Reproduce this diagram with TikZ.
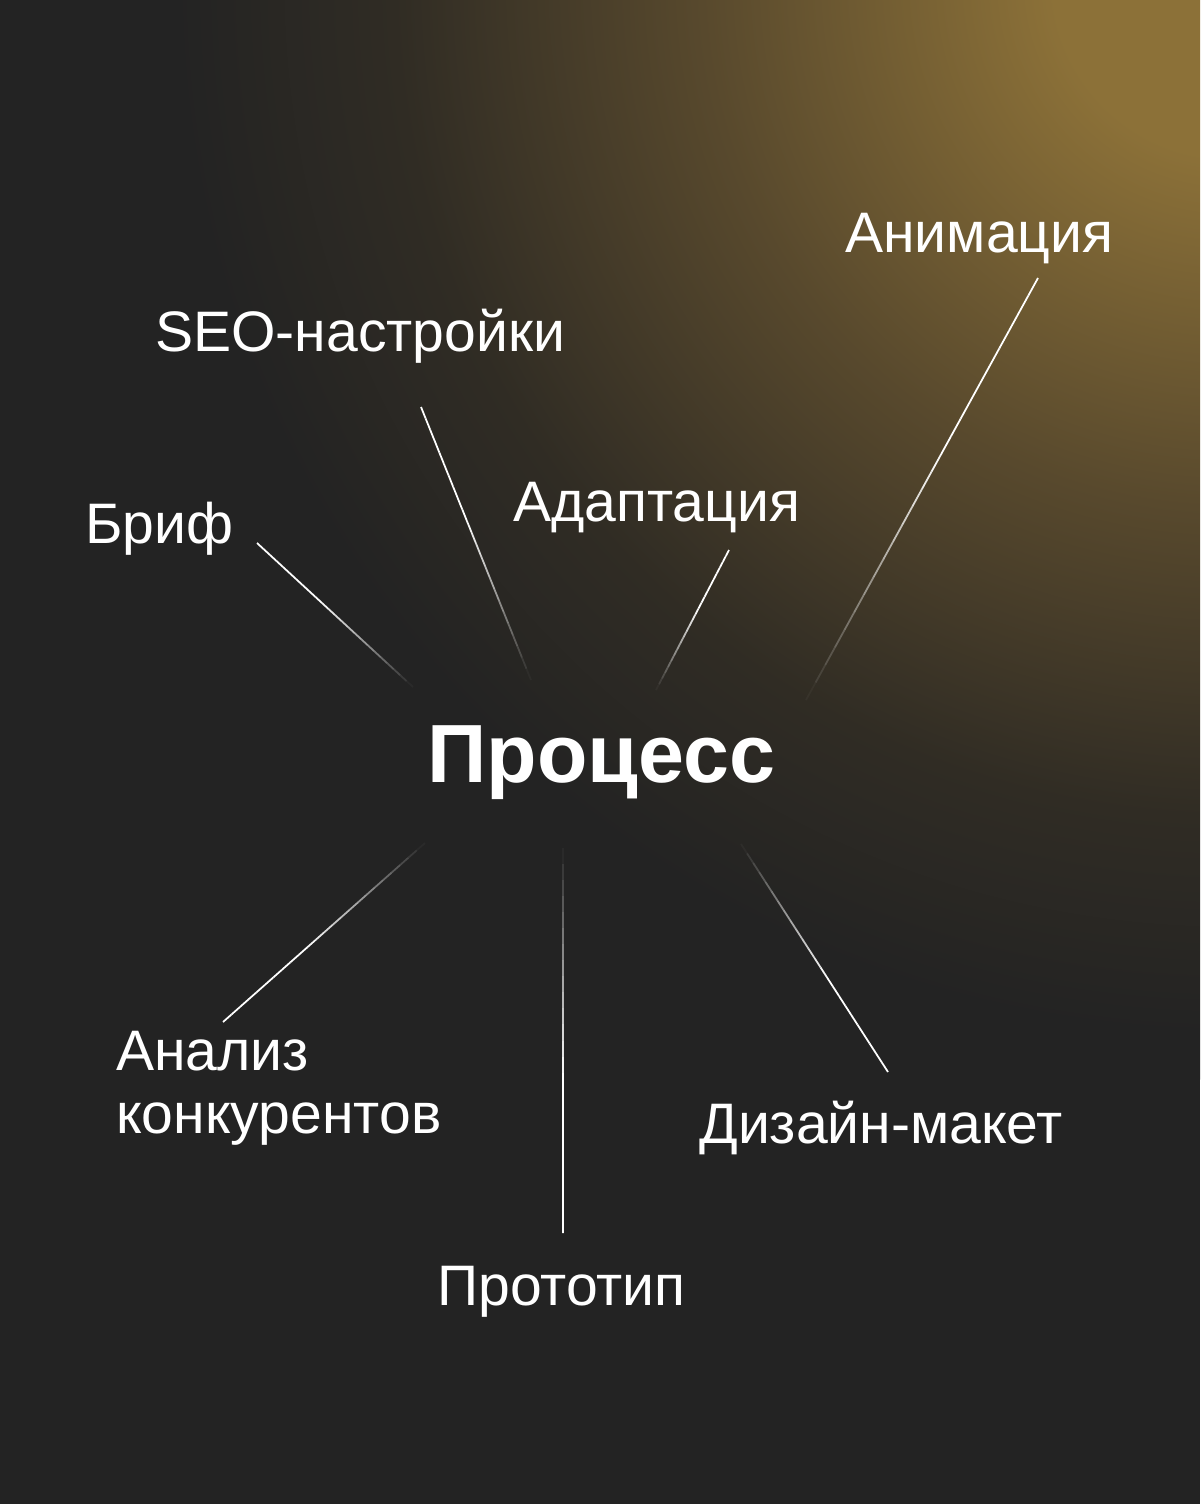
\documentclass[tikz,border=0pt]{standalone}
\usepackage{fontspec}
\setmainfont{Liberation Sans}
\usepackage{tikz}
\usetikzlibrary{calc}
\definecolor{nenxam}{RGB}{35,35,35}
\definecolor{vangdam}{RGB}{140,113,56}
\definecolor{vangvua}{RGB}{88,73,45}
\definecolor{vangtoi}{RGB}{48,44,36}
\pgfdeclareradialshading{anhvang}{\pgfpoint{0bp}{0bp}}{color(0bp)=(vangdam); color(4bp)=(vangdam); color(12bp)=(vangvua); color(19bp)=(vangtoi); color(24bp)=(nenxam); color(50bp)=(nenxam)}
\tikzset{
  nhan/.style={anchor=base west,inner sep=0pt,text=white,font=\fontsize{32.5}{36}\selectfont},
  tia/.style={draw=white,line width=1pt}
}
% tia mo dan ve phia giua
\newcommand{\tiamo}[2]{%
  \foreach \i in {0,...,23}{%
    \pgfmathsetmacro\ta{\i/24}%
    \pgfmathsetmacro\tb{(\i+1)/24}%
    \pgfmathsetmacro\dm{min(1,1.7*(1-(\i+0.5)/24))}%
    \draw[tia,opacity=\dm] ($(#1)!\ta!(#2)$) -- ($(#1)!\tb!(#2)$);
  }}
\begin{document}
\begin{tikzpicture}[x=0.02cm,y=-0.02cm]
	\useasboundingbox (0,0) rectangle (1200,1504);
	\fill[nenxam] (0,0) rectangle (1200,1504);
	\begin{scope}
		\clip (0,0) rectangle (1200,1504);
		\shade[shading=anhvang] (1230,-20) circle (1100);
	\end{scope}
	% cac nhan
	\node[nhan] (anim) at (845,252) {Анимация};
	\node[nhan] (seo) at (155,351) {SEO-настройки};
	\node[nhan] (adapt) at (513,521) {Адаптация};
	\node[nhan] (brif) at (85,543) {Бриф};
	\node[nhan,font=\fontsize{47}{50}\selectfont\bfseries] (proc) at (427,782) {Процесс};
	\node[nhan,align=left,anchor=north west] (anal) at (116,1031) {Анализ\\конкурентов};
	\node[nhan] (dizain) at (699,1143) {Дизайн-макет};
	\node[nhan] (proto) at (437,1305) {Прототип};
	% dau mut cac tia
	\coordinate (a1) at (1038,278); \coordinate (a2) at (806,700);
	\coordinate (s1) at (421,407);  \coordinate (s2) at (531,680);
	\coordinate (d1) at (729,550);  \coordinate (d2) at (656,690);
	\coordinate (b1) at (257,543);  \coordinate (b2) at (413,687);
	\coordinate (k1) at (223,1022); \coordinate (k2) at (425,843);
	\coordinate (p1) at (563,1233); \coordinate (p2) at (563,848);
	\coordinate (z1) at (888,1072); \coordinate (z2) at (741,844);
	\tiamo{a1}{a2}
	\tiamo{s1}{s2}
	\tiamo{d1}{d2}
	\tiamo{b1}{b2}
	\tiamo{k1}{k2}
	\tiamo{p1}{p2}
	\tiamo{z1}{z2}
\end{tikzpicture}
\end{document}
